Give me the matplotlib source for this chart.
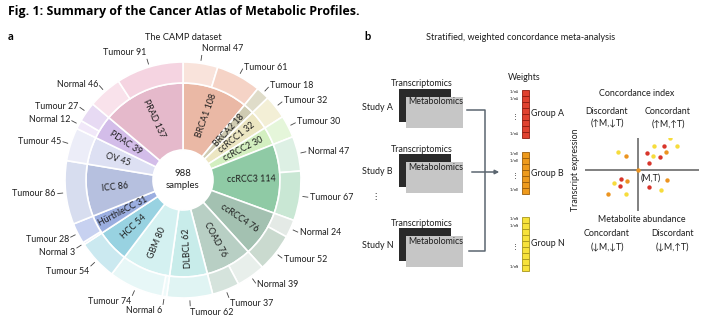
import numpy as np
import matplotlib.pyplot as plt

plt.rcParams['font.family'] = ['Lato', 'DejaVu Sans']

# ---------------- data ----------------
cancers = ['BRCA1', 'BRCA2', 'ccRCC1', 'ccRCC2', 'ccRCC3', 'ccRCC4', 'COAD', 'DLBCL',
           'GBM', 'HCC', 'HürthleCC', 'ICC', 'OV', 'PDAC', 'PRAD']
cancer_n = [108, 18, 32, 30, 114, 76, 76, 62, 80, 54, 31, 86, 45, 39, 137]
normal_n = [47, 0, 0, 0, 47, 24, 39, 0, 6, 0, 3, 0, 0, 12, 46]
tumour_n = [61, 18, 32, 30, 67, 52, 37, 62, 74, 54, 28, 86, 45, 27, 91]

inner_colors = ['#eab8a5', '#cfcbb2', '#ece6c2', '#d3efc0', '#8fcaa5', '#a3c1b1', '#b8cfc4',
                '#c8ecea', '#d4f1f1', '#98d2e1', '#9baee0', '#b6c0df', '#dde0f3', '#d3bde9', '#e5b9cb']
tumour_colors = ['#f5d3c6', '#dfdcc9', '#f3efd6', '#e5f6da', '#c9e7d4', '#cadacf', '#d5e3dc',
                 '#e0f4f3', '#e7f7f7', '#cbe9f0', '#c7d1f0', '#d7ddef', '#ecedf8', '#e7daf3', '#f5d4e1']
normal_colors = ['#f9e3db', '#dfdcc9', '#f3efd6', '#e5f6da', '#ddf0e4', '#e4eae6', '#e8efeb',
                 '#e0f4f3', '#eefafa', '#cbe9f0', '#dce3f6', '#d7ddef', '#ecedf8', '#f1e8f9', '#f9e2eb']

studies = ['Study A', 'Study B', 'Study N']
groups = ['A', 'B', 'N']
weight_cells = [8, 7, 9]
weight_colors = ['#e0412f', '#ee9a1c', '#f7e23a']
weight_edges = ['#8e1c10', '#9b5d0b', '#a8961a']

# concordance scatter (metabolite, transcript) relative to (M,T)
yellow_m = [-20, 32, 16, 39, 15, -24, -12, 23]
yellow_t = [18, 32, 24, 24, 14, -13, -24, -20]
red_m = [26, 9, 22, 11, -17, -18, 11]
red_t = [24, 17, 13, 7, -9, -16, -17]
orange_m = [-12, 28, -11, -30, 29, 0]
orange_t = [14, 18, -11, -24, -10, 0]

# ---------------- figure ----------------
W, H = 709, 326
fig = plt.figure(figsize=(W / 100, H / 100), dpi=100)
ax = fig.add_axes([0, 0, 1, 1])


def py(y):
    return H - y


txt = '#1e1e1e'
fs = 6.4

fig.text(8 / W, 1 - 12 / H, 'Fig. 1: Summary of the Cancer Atlas of Metabolic Profiles.',
         family=['Open Sans', 'DejaVu Sans'], fontweight='bold', fontsize=8.9, va='center', color='black')
ax.text(8, py(37), 'a', fontweight='bold', fontsize=8, va='center', color='black')
ax.text(364, py(37), 'b', fontweight='bold', fontsize=8, va='center', color='black')
ax.text(183, py(38), 'The CAMP dataset', fontsize=6.7, ha='center', va='center', color=txt)
ax.text(521, py(38), 'Stratified, weighted concordance meta-analysis', fontsize=6.6, ha='center', va='center', color=txt)

# ---------------- sunburst ----------------
cx, cy = 183, py(180)
r_out, r_mid, r_hole = 118, 97, 30
inner, _ = ax.pie(cancer_n, radius=r_mid, center=(cx, cy), startangle=90, counterclock=False,
                  colors=inner_colors, wedgeprops=dict(width=r_mid - r_hole, edgecolor='white', linewidth=1.2))

outer_vals, outer_cols, outer_labels = [], [], []
for i in range(len(cancers)):
    if normal_n[i]:
        outer_vals.append(normal_n[i])
        outer_cols.append(normal_colors[i])
        outer_labels.append(f'Normal {normal_n[i]}')
    outer_vals.append(tumour_n[i])
    outer_cols.append(tumour_colors[i])
    outer_labels.append(f'Tumour {tumour_n[i]}')

outer, _ = ax.pie(outer_vals, radius=r_out, center=(cx, cy), startangle=90, counterclock=False,
                  colors=outer_cols, wedgeprops=dict(width=r_out - r_mid, edgecolor='white', linewidth=1.2))

for w, name, n in zip(inner, cancers, cancer_n):
    th = (w.theta1 + w.theta2) / 2
    th = (th + 180) % 360 - 180
    c, s = np.cos(np.radians(th)), np.sin(np.radians(th))
    rot = th if c > 0.1 else th + 180
    ax.text(cx + 68 * c, cy + 68 * s, f'{name} {n}', rotation=rot, rotation_mode='anchor',
            ha='center', va='center', fontsize=fs, color=txt)

# small extra spread for crowded labels (pixels, downward)
nudge = {'Normal 3': 4, 'Tumour 54': 4, 'Tumour 28': 1}
for w, lab in zip(outer, outer_labels):
    th = (w.theta1 + w.theta2) / 2
    c, s = np.cos(np.radians(th)), np.sin(np.radians(th))
    ax.plot([cx + 121 * c, cx + 126 * c], [cy + 121 * s, cy + 126 * s], color='#444444', lw=0.6)
    ha = 'left' if c > 0 else 'right'
    va = 'center'
    if s > 0.9:
        va = 'bottom'
    elif s < -0.9:
        va = 'top'
    ax.text(cx + 128 * c, cy + 128 * s - nudge.get(lab, 0), lab, ha=ha, va=va, fontsize=fs, color=txt)

ax.text(cx, cy + 6, '988', ha='center', va='center', fontsize=6.9, color=txt)
ax.text(cx, cy - 6, 'samples', ha='center', va='center', fontsize=6.9, color=txt)

# ---------------- panel b: studies ----------------
box_tops = [89, 154, 228]
for name, y0 in zip(studies, box_tops):
    ax.add_patch(plt.Rectangle((399, py(y0 + 33)), 52, 33, color='#2a2a2a', lw=0))
    ax.add_patch(plt.Rectangle((406, py(y0 + 39)), 57, 31, color='#c6c6c6', lw=0))
    ax.text(422, py(y0 - 5), 'Transcriptomics', ha='center', va='center', fontsize=fs, color=txt)
    ax.text(408, py(y0 + 13), 'Metabolomics', ha='left', va='center', fontsize=fs, color=txt)
    ax.text(362, py(y0 + 18), name, ha='left', va='center', fontsize=fs, color=txt)
ax.text(375, py(196), '⋮', ha='center', va='center', fontsize=6, color=txt, family='DejaVu Sans')

line_c = '#5b6670'
ax.plot([467, 485, 485, 469], [py(110), py(110), py(251), py(251)], color=line_c, lw=1.1)
ax.annotate('', xy=(502, py(172)), xytext=(469, py(172)),
            arrowprops=dict(arrowstyle='-|>', color=line_c, lw=1.1, mutation_scale=6))

# ---------------- weights ----------------
ax.text(508, py(77), 'Weights', ha='left', va='center', fontsize=fs, color=txt)
col_tops = [90, 152, 217]
cell_h = 6
for g, n, top, fc, ec in zip(groups, weight_cells, col_tops, weight_colors, weight_edges):
    bottoms = py(top) - cell_h * (np.arange(n) + 1)
    ax.bar(np.full(n, 525.5), cell_h, bottom=bottoms, width=7.5, color=fc, edgecolor=ec, linewidth=0.6)
    bot = top + n * cell_h
    lab = r'1/n$_\mathregular{' + g + '}$'
    for yy in [top + 2, top + 9, bot - 4]:
        ax.text(520, py(yy), lab, ha='right', va='center', fontsize=3.1, color=txt)
    ax.text(515, py((top + 9 + bot - 4) / 2), '⋮', ha='center', va='center', fontsize=5, color=txt,
            family='DejaVu Sans')
    ax.text(531, py((top + bot) / 2), f'Group {g}', ha='left', va='center', fontsize=fs, color=txt)

# ---------------- concordance ----------------
ax.text(637, py(93), 'Concordance index', ha='center', va='center', fontsize=fs, color=txt)
ax.text(607, py(111), 'Discordant', ha='center', va='center', fontsize=fs, color=txt)
ax.text(607, py(124), '(↑M,↓T)', ha='center', va='center', fontsize=fs, color=txt)
ax.text(668, py(111), 'Concordant', ha='center', va='center', fontsize=fs, color=txt)
ax.text(668, py(124), '(↑M,↑T)', ha='center', va='center', fontsize=fs, color=txt)
ax.text(607, py(234), 'Concordant', ha='center', va='center', fontsize=fs, color=txt)
ax.text(607, py(248), '(↓M,↓T)', ha='center', va='center', fontsize=fs, color=txt)
ax.text(672, py(234), 'Discordant', ha='center', va='center', fontsize=fs, color=txt)
ax.text(672, py(248), '(↓M,↑T)', ha='center', va='center', fontsize=fs, color=txt)
ax.text(576, py(170), 'Transcript expression', rotation=90, ha='center', va='center', fontsize=6.3, color=txt)
ax.text(642, py(219), 'Metabolite abundance', ha='center', va='center', fontsize=fs, color=txt)
ax.text(641, py(178), '(M,T)', ha='left', va='center', fontsize=fs, color=txt)

ax.set_xlim(0, W)
ax.set_ylim(0, H)
ax.set_aspect('auto')
ax.axis('off')

cax = fig.add_axes([585 / W, (H - 211) / H, 114 / W, 73 / H])
cax.axhline(0, color='#6b6b6b', lw=1.2)
cax.axvline(0, color='#6b6b6b', lw=1.2)
cax.scatter(yellow_m, yellow_t, s=10, color='#f6dc3c', lw=0, zorder=3)
cax.scatter(red_m, red_t, s=10, color='#d8352b', lw=0, zorder=3)
cax.scatter(orange_m, orange_t, s=10, color='#ec9420', lw=0, zorder=3)
cax.set_xlim(-53, 61)
cax.set_ylim(-41, 32)
cax.axis('off')

fig.savefig('out.png', dpi=100)
